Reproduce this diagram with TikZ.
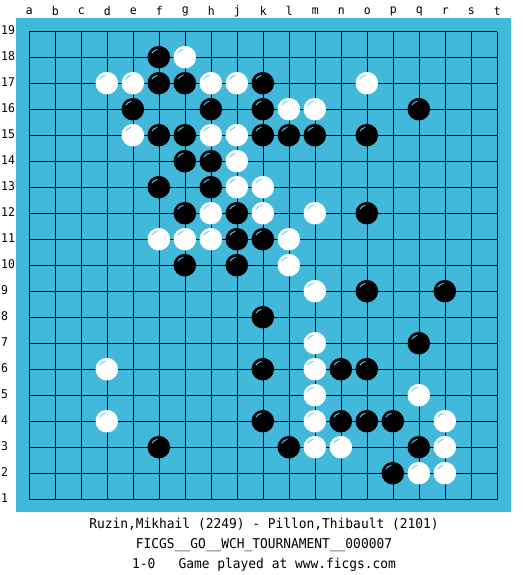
\documentclass[tikz,border=0pt]{standalone}
\usepackage{fontspec}
\newfontfamily\pixfont[FakeStretch=0.955]{DejaVu Sans Mono}
\definecolor{board}{RGB}{66,184,218}
\definecolor{hlc}{RGB}{110,200,232}
\begin{document}
\begin{tikzpicture}[x=1bp,y=1bp,
  stoneb/.style={circle,fill=black,minimum size=22.6bp,inner sep=0},
  stonew/.style={circle,fill=white,minimum size=22.6bp,inner sep=0},
  hl/.style={draw=hlc,line width=0.9bp},
  gridline/.style={line width=1.4bp,black},
  lbl/.style={font=\pixfont\fontsize{12bp}{14bp}\selectfont,inner sep=0},
  txt/.style={font=\pixfont\fontsize{13.5bp}{15bp}\selectfont,inner sep=0}]
\useasboundingbox (0,0) rectangle (525,575);
\fill[white] (0,0) rectangle (525,575);
\fill[board] (16,62.5) rectangle (511,557);
\foreach \i in {0,...,18} {
  \draw[gridline] ({29.3+26*\i},75.3) -- ({29.3+26*\i},543.3);
  \draw[gridline] (29.3,{75.3+26*\i}) -- (497.3,{75.3+26*\i});
}
\foreach \l [count=\i from 0] in {a,b,c,d,e,f,g,h,j,k,l,m,n,o,p,q,r,s,t}
  \node[lbl] (col-\l) at ({29.3+26*\i},564) {\l};
\foreach \r in {1,...,19}
  \node[lbl,anchor=west] (row-\r) at (1,{76.5+26*(\r-1)}) {\r};
% black stones
\foreach \c/\r in {6/18,6/17,7/17,10/17,5/16,8/16,10/16,16/16,6/15,7/15,10/15,11/15,12/15,14/15,
  7/14,8/14,6/13,8/13,7/12,9/12,14/12,9/11,10/11,7/10,9/10,14/9,17/9,10/8,16/7,10/6,13/6,14/6,
  10/4,13/4,14/4,15/4,6/3,11/3,16/3,15/2} {
  \node[stoneb] (b-\c-\r) at ({28.8+26*(\c-1)},{75.8+26*(\r-1)}) {};
  \draw[hl] ([shift={(100:8)}]b-\c-\r.center) arc[start angle=100,end angle=150,radius=8];
}
% white stones
\foreach \c/\r in {7/18,4/17,5/17,8/17,9/17,14/17,11/16,12/16,5/15,8/15,9/15,9/14,9/13,10/13,
  8/12,10/12,12/12,6/11,7/11,8/11,11/11,11/10,12/9,12/7,4/6,12/6,12/5,16/5,4/4,12/4,17/4,
  12/3,13/3,17/3,16/2,17/2} {
  \node[stonew] (w-\c-\r) at ({28.8+26*(\c-1)},{75.8+26*(\r-1)}) {};
  \draw[hl] ([shift={(100:8)}]w-\c-\r.center) arc[start angle=100,end angle=150,radius=8];
}
\node[txt] (players) at (264,51) {Ruzin,Mikhail (2249) - Pillon,Thibault (2101)};
\node[txt] (event) at (264,30) {FICGS\_\_GO\_\_WCH\_TOURNAMENT\_\_000007};
\node[txt] (result) at (264,10) {1-0\ \ \ Game played at www.ficgs.com};
\end{tikzpicture}
\end{document}
